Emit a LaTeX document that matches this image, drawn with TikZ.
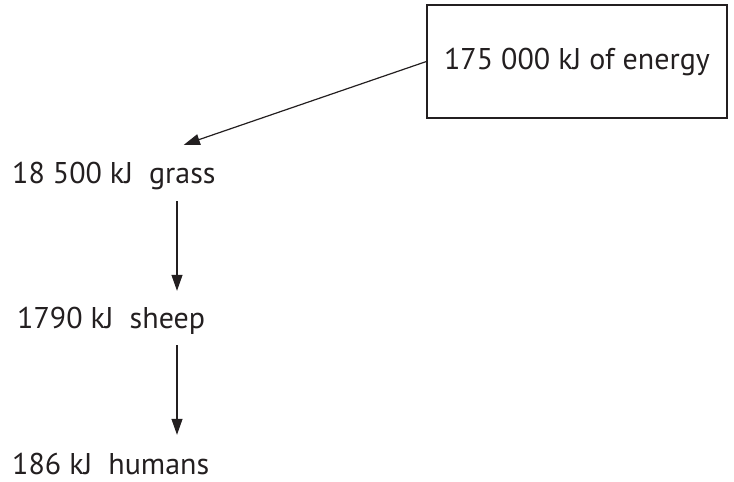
\documentclass[tikz,border=0pt]{standalone}
\usepackage{fontspec}
\setmainfont{PT Sans}
\usetikzlibrary{positioning, arrows.meta}
\definecolor{ink}{HTML}{231F20}
\tikzset{
    every node/.style={font=\fontsize{30}{34}\selectfont, text=ink, inner sep=0pt}, % one type for every label
    level/.style={anchor=base west, text height=20pt, text depth=6pt}, % a step of the food chain
    source/.style={draw=ink, line width=1.2pt, minimum width=300pt, minimum height=113pt}, % the energy box
    flow/.style={-{Triangle[length=16pt,width=11pt]}, draw=ink, line width=1.2pt}, % the energy arrows
}
\begin{document}
\begin{tikzpicture}[x=1pt, y=-1pt]
\useasboundingbox (0,0) rectangle (734,482);
\node[source] (energy) at (577,61.5) {175 000 kJ of energy};
\node[level] (grass) at (12,183) {18 500 kJ\ \ grass};
\node[level] (sheep) at (17,328) {1790 kJ\ \ sheep};
\node[level] (humans) at (12,474) {186 kJ\ \ humans};
\coordinate (spine) at (177,0); % the line the down arrows keep to
\draw[flow] (energy.west) -- ([shift={(70pt,18pt)}]grass.north);
\draw[flow, shorten <=12pt, shorten >=17pt] (grass.south -| spine) -- (sheep.north -| spine);
\draw[flow, shorten <=11pt, shorten >=19pt] (sheep.south -| spine) -- (humans.north -| spine);
\end{tikzpicture}
\end{document}
